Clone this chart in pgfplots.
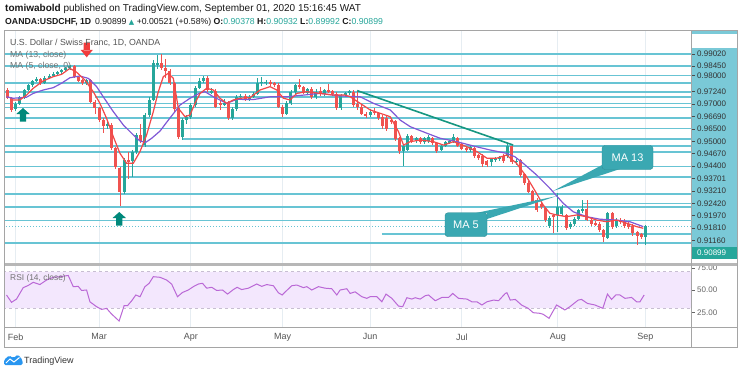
\documentclass[border=0pt]{standalone}
\usepackage{pgfplots}
\pgfplotsset{compat=1.18}
\usepackage{pgfplotstable}
\usepackage{fontspec}
\setmainfont{Liberation Sans}
\newfontfamily\dejavu{DejaVu Sans}

\definecolor{cgreen}{RGB}{38,166,154}
\definecolor{cred}{RGB}{239,83,80}
\definecolor{hlinec}{RGB}{104,196,212}
\definecolor{lblbg}{RGB}{122,201,215}
\definecolor{ma13c}{RGB}{128,88,214}
\definecolor{ma5c}{RGB}{242,72,72}
\definecolor{trendc}{RGB}{22,150,128}
\definecolor{calloutc}{RGB}{58,168,178}
\definecolor{rsic}{RGB}{186,104,214}
\definecolor{rsiband}{RGB}{243,231,253}
\definecolor{rsidash}{RGB}{200,190,210}
\definecolor{gridc}{RGB}{230,237,242}
\definecolor{framec}{RGB}{165,165,165}
\definecolor{txtgray}{RGB}{85,85,85}
\definecolor{tvblue}{RGB}{41,150,240}
\definecolor{arrgreen}{RGB}{0,137,123}
\definecolor{arrred}{RGB}{240,60,60}

\pgfdeclareplotmark{tvup}{%
  \pgfpathmoveto{\pgfqpoint{-6.7pt}{0pt}}%
  \pgfpathlineto{\pgfqpoint{6.7pt}{0pt}}%
  \pgfpathlineto{\pgfqpoint{0pt}{6pt}}%
  \pgfpathclose
  \pgfpathrectangle{\pgfqpoint{-3.2pt}{-7.5pt}}{\pgfqpoint{6.4pt}{7.8pt}}%
  \pgfusepathqfill}
\pgfdeclareplotmark{tvdown}{%
  \pgfpathmoveto{\pgfqpoint{-6pt}{0pt}}%
  \pgfpathlineto{\pgfqpoint{6pt}{0pt}}%
  \pgfpathlineto{\pgfqpoint{0pt}{-7.3pt}}%
  \pgfpathclose
  \pgfpathrectangle{\pgfqpoint{-3.2pt}{-0.3pt}}{\pgfqpoint{6.4pt}{7.6pt}}%
  \pgfusepathqfill}

% up (green) candles: bar index, open, high, low, close
\pgfplotstableread{
i o h l c
0 0.9640 0.9676 0.9632 0.9668
1 0.9668 0.9703 0.9660 0.9697
2 0.9697 0.9738 0.9690 0.9732
3 0.9732 0.9762 0.9725 0.9755
4 0.9755 0.9780 0.9748 0.9775
5 0.9775 0.9792 0.9768 0.9785
7 0.9765 0.9796 0.9760 0.9790
8 0.9790 0.9806 0.9782 0.9800
9 0.9800 0.9815 0.9794 0.9808
10 0.9808 0.9822 0.9800 0.9815
11 0.9815 0.9830 0.9808 0.9825
12 0.9825 0.9840 0.9818 0.9835
13 0.9835 0.9850 0.9828 0.9845
17 0.9763 0.9785 0.9756 0.9778
22 0.9560 0.9590 0.9550 0.9572
26 0.9252 0.9410 0.9240 0.9402
28 0.9395 0.9450 0.9320 0.9440
29 0.9440 0.9530 0.9430 0.9520
31 0.9472 0.9625 0.9465 0.9614
32 0.9614 0.9700 0.9605 0.9686
33 0.9686 0.9874 0.9680 0.9858
34 0.9850 0.9897 0.9830 0.9860
40 0.9510 0.9598 0.9496 0.9590
41 0.9590 0.9615 0.9570 0.9605
42 0.9605 0.9670 0.9595 0.9660
43 0.9660 0.9750 0.9650 0.9742
44 0.9742 0.9790 0.9735 0.9775
45 0.9775 0.9800 0.9765 0.9790
47 0.9720 0.9740 0.9712 0.9728
50 0.9665 0.9690 0.9655 0.9670
52 0.9598 0.9650 0.9590 0.9640
53 0.9640 0.9708 0.9632 0.9700
54 0.9700 0.9715 0.9690 0.9705
56 0.9690 0.9708 0.9682 0.9700
57 0.9700 0.9722 0.9695 0.9715
58 0.9715 0.9790 0.9708 0.9765
59 0.9765 0.9795 0.9750 0.9770
60 0.9765 0.9780 0.9755 0.9772
65 0.9620 0.9680 0.9612 0.9670
66 0.9670 0.9732 0.9662 0.9724
67 0.9724 0.9762 0.9715 0.9755
70 0.9720 0.9742 0.9712 0.9735
72 0.9700 0.9735 0.9692 0.9720
74 0.9712 0.9738 0.9705 0.9730
78 0.9646 0.9715 0.9640 0.9708
79 0.9708 0.9722 0.9700 0.9716
80 0.9716 0.9732 0.9710 0.9725
85 0.9612 0.9640 0.9605 0.9630
93 0.9445 0.9478 0.9373 0.9470
94 0.9450 0.9522 0.9442 0.9515
96 0.9490 0.9512 0.9482 0.9505
98 0.9485 0.9512 0.9478 0.9505
99 0.9490 0.9520 0.9482 0.9512
102 0.9450 0.9478 0.9442 0.9470
103 0.9470 0.9492 0.9462 0.9485
104 0.9485 0.9498 0.9478 0.9490
105 0.9490 0.9522 0.9482 0.9512
109 0.9450 0.9472 0.9440 0.9465
114 0.9390 0.9412 0.9375 0.9405
115 0.9400 0.9418 0.9392 0.9410
116 0.9405 0.9422 0.9398 0.9415
118 0.9420 0.9476 0.9412 0.9470
120 0.9392 0.9405 0.9380 0.9398
128 0.9090 0.9135 0.9082 0.9126
130 0.9140 0.9245 0.9060 0.9182
131 0.9145 0.9190 0.9138 0.9182
133 0.9085 0.9108 0.9078 0.9100
134 0.9100 0.9132 0.9092 0.9125
135 0.9125 0.9172 0.9118 0.9165
136 0.9160 0.9215 0.9152 0.9172
142 0.9035 0.9158 0.9028 0.9150
144 0.9090 0.9128 0.9082 0.9120
151 0.90378 0.90932 0.89992 0.90899
}\upc

% down (red) candles
\pgfplotstableread{
i o h l c
-2 0.9732 0.9742 0.9688 0.9696
-1 0.9696 0.9700 0.9628 0.9638
6 0.9785 0.9790 0.9758 0.9765
14 0.9845 0.9852 0.9788 0.9795
15 0.9795 0.9800 0.9768 0.9775
16 0.9778 0.9783 0.9755 0.9763
18 0.9778 0.9782 0.9670 0.9677
19 0.9677 0.9685 0.9620 0.9646
20 0.9646 0.9652 0.9580 0.9590
21 0.9590 0.9598 0.9530 0.9560
23 0.9567 0.9575 0.9450 0.9457
24 0.9457 0.9465 0.9360 0.9370
25 0.9362 0.9370 0.9185 0.9252
27 0.9402 0.9440 0.9310 0.9395
30 0.9520 0.9570 0.9480 0.9490
35 0.9860 0.9900 0.9825 0.9835
36 0.9835 0.9880 0.9790 0.9820
37 0.9820 0.9830 0.9755 0.9764
38 0.9764 0.9772 0.9630 0.9640
39 0.9646 0.9655 0.9500 0.9512
46 0.9790 0.9798 0.9725 0.9732
48 0.9728 0.9735 0.9645 0.9654
49 0.9670 0.9680 0.9640 0.9665
51 0.9670 0.9678 0.9590 0.9598
55 0.9705 0.9712 0.9682 0.9690
61 0.9772 0.9780 0.9750 0.9762
62 0.9765 0.9772 0.9745 0.9758
63 0.9758 0.9765 0.9645 0.9652
64 0.9652 0.9660 0.9605 0.9620
68 0.9755 0.9782 0.9738 0.9745
69 0.9745 0.9752 0.9712 0.9720
71 0.9735 0.9745 0.9690 0.9700
73 0.9725 0.9745 0.9705 0.9712
75 0.9730 0.9760 0.9718 0.9725
76 0.9725 0.9732 0.9705 0.9715
77 0.9715 0.9722 0.9638 0.9646
81 0.9725 0.9730 0.9652 0.9660
82 0.9665 0.9729 0.9640 0.9650
83 0.9650 0.9660 0.9612 0.9620
84 0.9620 0.9630 0.9600 0.9612
86 0.9630 0.9645 0.9612 0.9622
87 0.9622 0.9630 0.9590 0.9600
88 0.9605 0.9612 0.9550 0.9560
89 0.9600 0.9608 0.9540 0.9548
90 0.9590 0.9600 0.9570 0.9580
91 0.9585 0.9592 0.9492 0.9500
92 0.9505 0.9510 0.9430 0.9445
95 0.9515 0.9520 0.9482 0.9490
97 0.9505 0.9512 0.9478 0.9485
100 0.9505 0.9512 0.9472 0.9480
101 0.9480 0.9488 0.9435 0.9442
106 0.9505 0.9512 0.9462 0.9470
107 0.9475 0.9482 0.9448 0.9455
108 0.9460 0.9470 0.9440 0.9450
110 0.9460 0.9468 0.9412 0.9420
111 0.9425 0.9432 0.9400 0.9410
112 0.9420 0.9428 0.9370 0.9385
113 0.9395 0.9402 0.9368 0.9380
117 0.9420 0.9428 0.9388 0.9395
119 0.9470 0.9475 0.9385 0.9392
121 0.9400 0.9408 0.9322 0.9330
122 0.9335 0.9342 0.9285 0.9293
123 0.9295 0.9302 0.9245 0.9252
124 0.9255 0.9262 0.9198 0.9205
125 0.9215 0.9222 0.9158 0.9166
126 0.9195 0.9202 0.9170 0.9180
127 0.9175 0.9182 0.9110 0.9118
129 0.9140 0.9148 0.9055 0.9133
132 0.9140 0.9148 0.9072 0.9079
137 0.9170 0.9215 0.9112 0.9120
138 0.9120 0.9128 0.9092 0.9100
139 0.9105 0.9112 0.9090 0.9098
140 0.9100 0.9108 0.9062 0.9071
141 0.9070 0.9078 0.9016 0.9040
143 0.9150 0.9158 0.9078 0.9085
145 0.9120 0.9128 0.9100 0.9110
146 0.9115 0.9122 0.9082 0.9090
147 0.9100 0.9108 0.9075 0.9085
148 0.9090 0.9098 0.9045 0.9055
149 0.9060 0.9068 0.9000 0.9045
150 0.9050 0.9058 0.9030 0.90378
}\downc

% MA 13
\pgfplotstableread{
i p
-2.2 0.9700
-0.6 0.9693
2.6 0.9698
4.2 0.9716
6.6 0.9732
9.0 0.9743
11.0 0.9764
13.0 0.9790
15.4 0.9798
17.4 0.9787
19.4 0.9748
21.0 0.9700
23.4 0.9630
25.8 0.9567
28.2 0.9520
29.8 0.9491
31.2 0.9485
32.6 0.9504
34.6 0.9538
36.6 0.9590
38.2 0.9630
39.4 0.9661
41.8 0.9693
44.2 0.9718
45.4 0.9724
47.4 0.9700
50.6 0.9669
53.0 0.9688
57.0 0.9687
61.0 0.9700
65.0 0.9700
69.0 0.9708
73.0 0.9716
77.8 0.9704
82.6 0.9700
85.8 0.9669
89.8 0.9638
92.2 0.9590
94.6 0.9559
98.6 0.9528
101.8 0.9504
105.8 0.9488
109.7 0.9468
113.7 0.9449
117.7 0.9433
119.7 0.9417
121.7 0.9386
124.9 0.9331
128.1 0.9268
131.3 0.9197
133.7 0.9157
136.9 0.9134
140.1 0.9122
144.1 0.9118
147.3 0.9110
150.5 0.9087
}\maA

% MA 5
\pgfplotstableread{
i p
-0.6 0.9685
1.0 0.9685
2.6 0.9708
4.2 0.9740
6.6 0.9775
9.0 0.9795
11.0 0.9806
13.0 0.9834
14.6 0.9816
16.6 0.9779
18.6 0.9724
20.2 0.9669
21.8 0.9598
23.4 0.9512
25.0 0.9433
26.6 0.9386
28.2 0.9386
29.8 0.9441
31.4 0.9520
33.0 0.9630
34.2 0.9724
35.4 0.9795
36.6 0.9811
37.8 0.9787
39.0 0.9646
40.6 0.9606
41.8 0.9614
43.0 0.9669
44.2 0.9716
45.8 0.9740
47.4 0.9732
49.0 0.9693
50.6 0.9669
52.2 0.9685
53.8 0.9693
56.2 0.9696
58.6 0.9732
61.0 0.9748
62.6 0.9732
64.2 0.9693
65.8 0.9685
67.4 0.9716
69.8 0.9724
73.0 0.9716
76.2 0.9708
79.0 0.9708
80.2 0.9700
82.6 0.9669
85.0 0.9638
87.4 0.9622
89.8 0.9606
91.8 0.9535
93.0 0.9472
94.6 0.9488
97.0 0.9496
100.2 0.9488
102.6 0.9472
105.0 0.9488
108.2 0.9464
110.6 0.9441
113.0 0.9410
115.3 0.9410
117.7 0.9425
120.1 0.9386
122.5 0.9323
124.9 0.9244
126.5 0.9189
128.1 0.9150
129.7 0.9142
132.1 0.9134
134.5 0.9142
136.9 0.9134
139.3 0.9118
141.7 0.9110
144.1 0.9118
146.5 0.9103
148.9 0.9087
150.5 0.9079
}\maB

% RSI (14, close)
\pgfplotstableread{
i v
-2.2 44.5
-1.0 36.4
0.2 40
1.8 52.6
3.0 55
4.2 58.5
5.8 56
7.4 61
9.0 64
10.6 64.7
12.6 66
13.8 53.7
15.0 54
15.8 49.5
17.0 50
17.8 37
19.4 31.6
20.6 28.6
21.8 29.7
23.0 23.5
24.8 15.8
26.0 32.7
26.8 32.7
27.8 38
28.8 44.5
29.8 42.6
31.0 53.7
32.0 57.4
33.0 64.7
34.6 64
36.2 61
37.4 56.5
38.8 42.6
40.0 47.3
41.4 50
42.6 53.7
43.8 56.6
44.8 57.4
45.8 52
47.0 53
48.2 49.5
49.6 50
50.8 45.5
52.2 50.5
53.1 53
54.2 50.5
55.8 52
57.8 56.6
59.0 54
60.2 56
61.8 54.7
63.0 46.9
63.9 44.5
65.0 49.5
66.2 54.7
67.4 55.5
69.0 52.6
69.8 53.7
71.0 50
72.6 53.7
74.2 52
75.8 51.4
77.0 44.5
77.8 50
79.4 51.4
80.2 46.2
81.4 48
83.0 42.6
84.2 40.8
85.0 42.6
86.6 42.6
87.8 37
88.8 45.5
90.2 40.8
91.8 32.3
92.8 31.6
93.8 41.5
95.0 40
95.8 41.5
97.0 40
98.2 43.7
99.0 44.5
100.6 38.2
102.2 41.8
103.8 41.8
104.8 46.2
106.2 40.8
108.2 40
109.4 37
110.6 37
111.8 33.5
113.0 37
114.6 38.9
115.8 38.2
117.4 46.2
117.8 47
118.6 38.9
119.8 39.6
121.3 33.5
122.9 29.8
124.1 25
125.7 24.3
126.5 23.2
127.9 18.8
129.7 33.5
131.7 28
132.9 31.6
134.9 38.9
135.7 39.6
137.1 35.2
138.9 33.5
140.8 29.8
141.9 45.5
142.9 39.6
143.9 44.5
144.9 44.5
146.1 40.8
147.7 41.8
148.9 37
149.7 37
150.7 44.5
}\rsi

\pgfplotsset{
  hl/.style={hlinec, line width=1.6pt, forget plot},
  wick/.style={draw=none, mark=none, forget plot, error bars/.cd, y dir=both, y explicit, error mark=none,
     error bar style={draw=#1, line width=0.8pt, solid}},
  body/.style={draw=none, mark=none, forget plot, error bars/.cd, y dir=both, y explicit, error mark=none,
     error bar style={draw=#1, line width=3pt, solid}},
}

\begin{document}
\begin{tikzpicture}[x=1pt,y=1pt]
\path[use as bounding box] (0,0) rectangle (740,-373);
\fill[white] (0,0) rectangle (740,-373);

% ---------- price pane ----------
\begin{axis}[
  at={(5pt,-30pt)}, anchor=north west,
  width=686pt, height=234pt, scale only axis,
  xmin=-2.566, xmax=161.94, ymin=0.89105, ymax=1.00153,
  axis line style={draw=none},
  xtick={0,20,42,64,85,107,130,151}, xticklabels={},
  ytick=\empty, major tick length=0pt,
  xmajorgrids, major grid style={gridc, line width=0.8pt},
  clip mode=individual,
]
\pgfplotsinvokeforeach{0.9902,0.9845,0.9765,0.9724,0.9669,0.9650,0.9600,0.9550,0.9467,0.9440,0.93701,0.9321,0.9242,0.9181,0.9116,0.9011}{
  \addplot[hl] coordinates {(-3,#1) (163,#1)};
}
\addplot[hl] coordinates {(37.5,0.9800) (163,0.9800)};
\addplot[hl] coordinates {(19,0.9700) (163,0.9700)};
\addplot[hl] coordinates {(40,0.9500) (163,0.9500)};
\addplot[hl] coordinates {(135.8,0.9197) (163,0.9197)};
\addplot[hl] coordinates {(87.8,0.9052) (163,0.9052)};
\addplot[hlinec, dotted, line width=1pt, forget plot] coordinates {(-3,0.90899) (163,0.90899)};

% candles
\addplot[wick=cred] table[x=i, y expr={(\thisrow{h}+\thisrow{l})/2}, y error expr={(\thisrow{h}-\thisrow{l})/2}] {\downc};
\addplot[body=cred] table[x=i, y expr={(\thisrow{o}+\thisrow{c})/2}, y error expr={max(abs(\thisrow{o}-\thisrow{c})/2,0.00006)}] {\downc};
\addplot[wick=cgreen] table[x=i, y expr={(\thisrow{h}+\thisrow{l})/2}, y error expr={(\thisrow{h}-\thisrow{l})/2}] {\upc};
\addplot[body=cgreen] table[x=i, y expr={(\thisrow{o}+\thisrow{c})/2}, y error expr={max(abs(\thisrow{o}-\thisrow{c})/2,0.00006)}] {\upc};

% moving averages
\addplot[ma13c, line width=1.2pt] table[x=i, y=p] {\maA};
\addplot[ma5c, line width=1.2pt] table[x=i, y=p] {\maB};

% trend line
\addplot[trendc, line width=1.6pt] coordinates {(81.9,0.9729) (119.3,0.9472)};

% arrow marks
\addplot[only marks, mark=tvup, color=arrgreen] coordinates {(1.75,0.96187) (24.84,0.91277)};
\addplot[only marks, mark=tvdown, color=arrred] coordinates {(17.03,0.99209)};
\end{axis}

% ---------- RSI pane ----------
\begin{axis}[
  at={(5pt,-264pt)}, anchor=north west,
  width=686pt, height=63pt, scale only axis,
  xmin=-2.566, xmax=161.94, ymin=9.2, ymax=78.67,
  axis line style={draw=none},
  xtick={0,20,42,64,85,107,130,151},
  xticklabels={Feb,Mar,Apr,May,Jun,Jul,Aug,Sep},
  xticklabel style={font=\fontsize{9}{10}\selectfont, text=txtgray, yshift=-3pt},
  ytick=\empty, major tick length=0pt,
  xmajorgrids, major grid style={gridc, line width=0.8pt},
]
\addplot[draw=none, fill=rsiband, forget plot] coordinates {(-3,30) (163,30) (163,70) (-3,70) (-3,30)};
\addplot[rsidash, line width=1pt, dash pattern=on 3pt off 3pt] coordinates {(-3,70) (163,70)};
\addplot[rsidash, line width=1pt, dash pattern=on 3pt off 3pt] coordinates {(-3,30) (163,30)};
\addplot[rsic, line width=1pt] table[x=i, y=v] {\rsi};
\end{axis}

% ---------- callouts ----------
\fill[calloutc] (604,-164) -- (620,-169) -- (553,-191) -- cycle;
\node[fill=calloutc, draw=calloutc!85!black, rounded corners=3pt, minimum width=51pt, minimum height=24pt, inner sep=0pt, text=white, font=\fontsize{11}{12}\selectfont] at (627.5,-157.5) {MA 13};
\fill[calloutc] (476,-213) -- (487,-213) -- (487,-219) -- (557,-196) -- cycle;
\node[fill=calloutc, draw=calloutc!85!black, rounded corners=3pt, minimum width=42pt, minimum height=24pt, inner sep=0pt, text=white, font=\fontsize{11}{12}\selectfont] at (466,-224.7) {MA 5};

% ---------- legends ----------
\node[anchor=base west, inner sep=0, text=txtgray, font=\fontsize{8.8}{11}\selectfont] at (10,-45.5) {U.S. Dollar / Swiss Franc, 1D, OANDA};
\node[anchor=base west, inner sep=0, text=black!55, font=\fontsize{8.7}{11}\selectfont] at (10,-57) {MA (13, close)};
\node[anchor=base west, inner sep=0, text=black!55, font=\fontsize{8.7}{11}\selectfont] at (10,-68.5) {MA (5, close, 0)};
\node[anchor=base west, inner sep=0, text=black!55, font=\fontsize{8.4}{11}\selectfont] at (10,-280) {RSI (14, close)};

% ---------- price scale ----------
\fill[white] (692,-30) rectangle (737,-264);
\fill[lblbg] (692,-47.8) rectangle (737,-259.2);
\fill[lblbg] (692,-30) rectangle (737,-34);
\foreach \yy/\tt in {54/0.99020,66/0.98450,75.6/0.98000,91.7/0.97240,104.1/0.97000,116.5/0.96690,128.9/0.96500,141.3/0.95000,153.7/0.94670,166.1/0.94400,178.5/0.93701,190.9/0.93210,203.3/0.92420,215.7/0.91970,228.1/0.91810,240.5/0.91160}{
  \draw[black!70, line width=0.6pt] (692,-\yy) -- (695,-\yy);
  \node[anchor=west, inner sep=0, text=black!80, font=\fontsize{8}{9}\selectfont] at (697,-\yy) {\tt};
}
\fill[cgreen] (692,-246.7) rectangle (737,-259.2);
\node[anchor=west, inner sep=0, text=white, font=\fontsize{8}{9}\selectfont] at (697,-252.9) {0.90899};
\foreach \yy/\tt in {268/75.00,290/50.00,312.5/25.00}{
  \draw[black!60, line width=0.6pt] (692,-\yy) -- (695,-\yy);
  \node[anchor=west, inner sep=0, text=black!60, font=\fontsize{8}{9}\selectfont] at (697,-\yy) {\tt};
}

% ---------- frames ----------
\draw[framec, line width=1pt] (4.5,-30) rectangle (737,-347.5);
\draw[framec!80, line width=2.2pt] (4.5,-264.5) -- (737,-264.5);
\draw[framec, line width=1pt] (4.5,-327.3) -- (737,-327.3);
\draw[framec, line width=1pt] (691.5,-30) -- (691.5,-347.5);

% ---------- header ----------
\node[anchor=base west, inner sep=0, text=black!90, font=\fontsize{10}{12}\selectfont] at (5,-11.5)
  {\textbf{tomiwabold} published on TradingView.com, September 01, 2020 15:16:45 WAT};
\node[anchor=base west, inner sep=0, text=black!90, font=\fontsize{8.7}{12}\selectfont] at (5,-24.5)
  {\textbf{OANDA:USDCHF, 1D}\, 0.90899 {\color{cgreen}\dejavu\fontsize{7}{9}\selectfont ▲} +0.00521 (+0.58\%) \textbf{O:}{\color{cgreen}0.90378} \textbf{H:}{\color{cgreen}0.90932} \textbf{L:}{\color{cgreen}0.89992} \textbf{C:}{\color{cgreen}0.90899}};

% ---------- TradingView logo ----------
\fill[tvblue, rounded corners=1.5pt] (4,-365) -- (4,-360) -- (9,-355.5) -- (13.5,-358) -- (18,-354.5) -- (22.5,-360) -- (22.5,-365) -- cycle;
\draw[white, line width=1pt] (6,-363) -- (10,-359) -- (14,-362) -- (19.5,-357.5);
\node[anchor=base west, inner sep=0, text=black!80, font=\fontsize{9}{11}\selectfont] at (24,-363.5) {TradingView};
\end{tikzpicture}
\end{document}
